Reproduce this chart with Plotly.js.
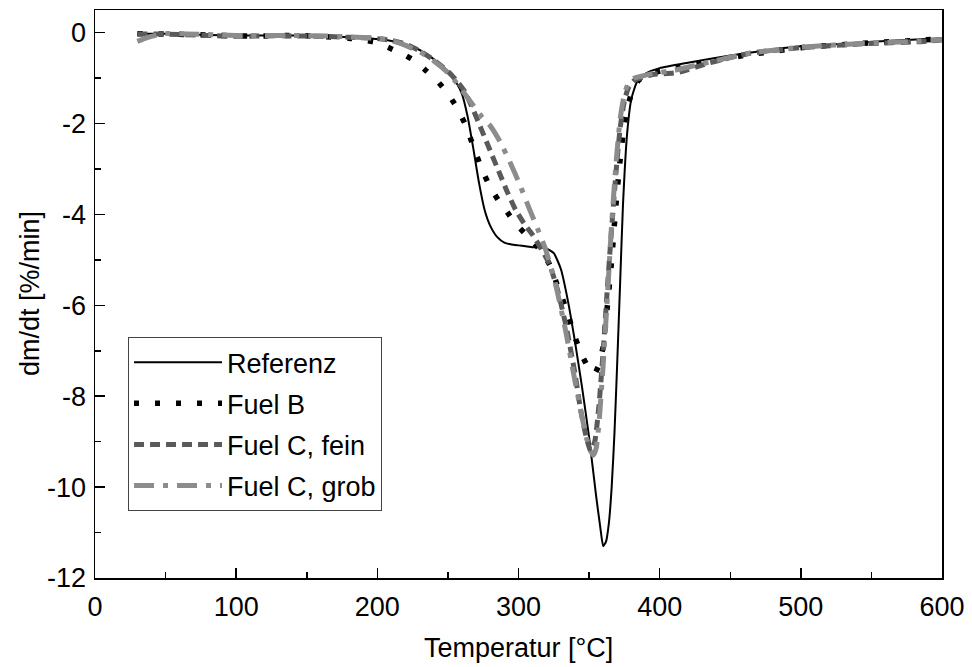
<!DOCTYPE html>
<html>
<head>
<meta charset="utf-8">
<script src="https://cdn.plot.ly/plotly-3.0.1.min.js"></script>
<style>html,body{margin:0;padding:0;background:#fff}#chart{width:972px;height:667px}</style>
</head>
<body>
<div id="chart"></div>
<script>
// Referenz
var refT = [30,40,60,80,100,120,140,160,180,200,210,220,230,240,250,256,260,264,268,272,276,280,285,290,295,300,305,310,315,320,325,330,335,340,345,350,355,358,360,362,364,366,368,370,372,374,377,380,384,390,400,420,450,480,500,530,560,600];
var refV = [-0.02,-0.02,-0.03,-0.05,-0.06,-0.06,-0.06,-0.07,-0.1,-0.14,-0.18,-0.25,-0.38,-0.58,-0.85,-1.1,-1.35,-1.85,-2.55,-3.3,-3.9,-4.25,-4.5,-4.62,-4.66,-4.68,-4.7,-4.72,-4.72,-4.75,-4.85,-5.2,-5.9,-6.8,-7.8,-8.9,-10.2,-10.9,-11.3,-11.2,-10.8,-10.0,-8.8,-7.2,-5.5,-3.8,-2.2,-1.45,-1.08,-0.9,-0.78,-0.66,-0.5,-0.37,-0.3,-0.24,-0.18,-0.12];
// Fuel B
var bT = [30,50,80,100,120,140,160,180,190,200,211,220,228,235,242,249,256,262,268,274,280,286,292,298,304,310,316,322,328,334,340,345,350,354,357,360,363,366,369,372,375,378,381,385,390,398,410,430,460,500,540,580,600];
var bV = [-0.02,-0.03,-0.05,-0.07,-0.07,-0.06,-0.08,-0.12,-0.16,-0.22,-0.37,-0.5,-0.65,-0.85,-1.05,-1.3,-1.63,-2.0,-2.5,-3.0,-3.4,-3.7,-3.95,-4.2,-4.4,-4.6,-4.8,-5.1,-5.6,-6.1,-6.7,-7.1,-7.4,-7.5,-7.3,-6.9,-6.0,-5.0,-3.8,-2.8,-2.0,-1.55,-1.25,-1.05,-0.95,-0.86,-0.78,-0.66,-0.5,-0.33,-0.24,-0.17,-0.14];
// Fuel C, fein
var fT = [30,50,80,100,120,140,160,180,200,210,220,230,240,250,256,262,268,274,280,286,292,298,304,310,316,322,328,334,340,344,348,351,354,357,360,363,366,369,372,375,378,382,388,395,412,436,464,500,547,582,600];
var fV = [-0.03,-0.03,-0.06,-0.08,-0.07,-0.07,-0.08,-0.1,-0.13,-0.17,-0.25,-0.4,-0.6,-0.85,-1.05,-1.3,-1.7,-2.15,-2.6,-3.05,-3.5,-3.9,-4.2,-4.45,-4.75,-5.1,-5.7,-6.5,-7.5,-8.3,-8.9,-9.2,-9.0,-8.2,-7.0,-5.6,-4.3,-3.1,-2.1,-1.5,-1.2,-1.05,-0.98,-0.92,-0.88,-0.66,-0.45,-0.33,-0.24,-0.2,-0.16];
// Fuel C, grob
var gT = [30,35,40,45,50,80,100,120,140,160,180,200,210,220,230,240,250,256,262,268,274,280,287,294,301,308,314,319,326,333,339,344,348,351,353,355,357,360,363,366,369,372,375,378,382,388,395,410,436,464,500,547,582,600];
var gV = [-0.19,-0.13,-0.08,-0.04,-0.02,-0.04,-0.06,-0.06,-0.06,-0.07,-0.09,-0.12,-0.17,-0.28,-0.42,-0.62,-0.88,-1.1,-1.35,-1.6,-1.85,-2.05,-2.4,-2.85,-3.35,-3.9,-4.35,-4.75,-5.5,-6.5,-7.5,-8.3,-8.9,-9.2,-9.3,-9.15,-8.6,-7.3,-5.8,-4.2,-2.9,-1.9,-1.35,-1.1,-1.0,-0.95,-0.9,-0.83,-0.64,-0.45,-0.32,-0.23,-0.19,-0.15];

var names = ['Referenz','Fuel B','Fuel C, fein','Fuel C, grob'];
var xTickVals = [0,100,200,300,400,500,600];
var xTickText = ['0','100','200','300','400','500','600'];
var yTickVals = [0,-2,-4,-6,-8,-10,-12];
var yTickText = ['0','-2','-4','-6','-8','-10','-12'];
var xTitle = 'Temperatur [°C]';
var yTitle = 'dm/dt [%/min]';

var traces = [
  {x: refT, y: refV, name: names[0], legendgroup: 'a', mode: 'lines',
   line: {color: '#000000', width: 2, shape: 'spline', smoothing: 0.5}},
  {x: bT, y: bV, name: names[1], legendgroup: 'b', mode: 'lines',
   line: {color: '#000000', width: 5.5, dash: '5px,16px', shape: 'spline', smoothing: 0.5}},
  {x: fT, y: fV, name: names[2], legendgroup: 'c', mode: 'lines',
   line: {color: '#5a5a5a', width: 5, dash: '10px,6px', shape: 'spline', smoothing: 0.5}},
  {x: gT, y: gV, name: names[3], legendgroup: 'd', mode: 'lines',
   line: {color: '#8c8c8c', width: 5, dash: '20px,9px,5px,9px', shape: 'spline', smoothing: 0.5}}
];

var fontFam = 'Liberation Sans, Arial, sans-serif';
var fs = 27;
var layout = {
  width: 972, height: 667,
  margin: {l: 95, r: 30, t: 10, b: 89, pad: 0},
  paper_bgcolor: '#fff', plot_bgcolor: '#fff',
  font: {family: fontFam, size: fs, color: '#000'},
  showlegend: true,
  legend: {x: 0.039, y: 0.424, xanchor: 'left', yanchor: 'top',
    bordercolor: '#444', borderwidth: 1, bgcolor: 'rgba(255,255,255,0)',
    font: {family: fontFam, size: fs, color: '#000'},
    traceorder: 'grouped', tracegroupgap: 3, itemwidth: 88},
  xaxis: {range: [0, 600], tickvals: xTickVals, ticktext: xTickText,
    ticks: 'inside', ticklen: 10, tickwidth: 1.5, tickcolor: '#000',
    minor: {dtick: 50, ticks: 'inside', ticklen: 6, tickwidth: 1.5, tickcolor: '#000', showgrid: false},
    showline: true, linecolor: '#000', linewidth: 1.5, mirror: true,
    showgrid: false, zeroline: false,
    tickfont: {size: fs}, ticklabelstandoff: 4},
  yaxis: {range: [-12, 0.5], tickvals: yTickVals, ticktext: yTickText,
    ticks: 'inside', ticklen: 10, tickwidth: 1.5, tickcolor: '#000',
    minor: {dtick: 1, ticks: 'inside', ticklen: 6, tickwidth: 1.5, tickcolor: '#000', showgrid: false},
    showline: true, linecolor: '#000', linewidth: 1.5, mirror: true,
    showgrid: false, zeroline: false,
    tickfont: {size: fs}, ticklabelstandoff: 2},
  annotations: [
    {text: xTitle, xref: 'paper', yref: 'paper', x: 0.5, y: -0.123,
     xanchor: 'center', yanchor: 'middle', showarrow: false, font: {size: fs}},
    {text: yTitle, xref: 'paper', yref: 'paper', x: -0.0767, y: 0.5,
     xanchor: 'center', yanchor: 'middle', textangle: -90, showarrow: false, font: {size: fs}}
  ]
};

Plotly.newPlot('chart', traces, layout, {displayModeBar: false, staticPlot: true});
</script>
</body>
</html>
